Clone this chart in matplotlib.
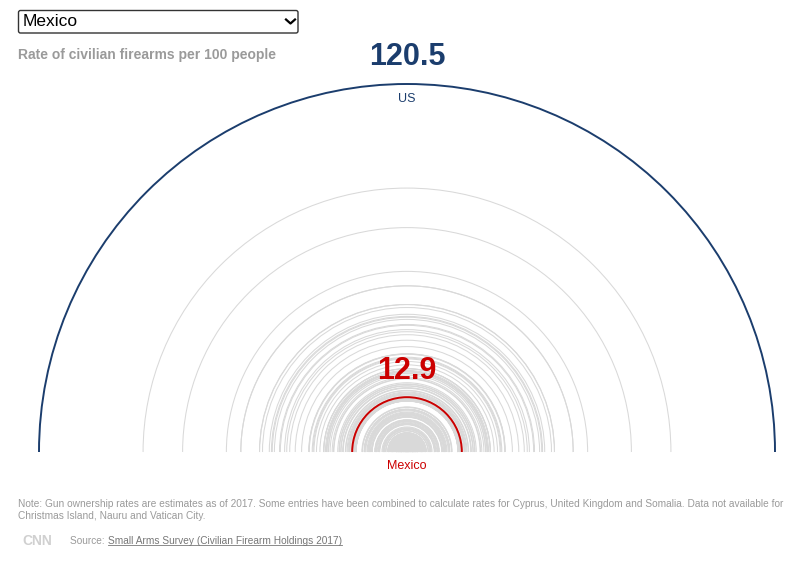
import matplotlib
matplotlib.use("Agg")
import matplotlib.pyplot as plt
from matplotlib import font_manager
from matplotlib.patches import Arc, FancyBboxPatch
from matplotlib.lines import Line2D

# Small Arms Survey 2017, civilian firearms per 100 people (read / estimated)
countries = [
    "United States", "Falkland Islands", "Yemen", "New Caledonia", "Montenegro",
    "Serbia", "Canada", "Uruguay", "Cyprus", "Finland", "Lebanon", "Iceland",
    "Bosnia and Herzegovina", "Austria", "North Macedonia", "Norway", "Malta",
    "Switzerland", "New Zealand", "Kuwait", "Northern Mariana Islands", "Sweden",
    "Kosovo", "Pakistan", "United Arab Emirates", "Greenland", "Portugal",
    "Bahrain", "Iraq", "Germany", "France", "Qatar", "Guam", "Luxembourg",
    "French Guiana", "Venezuela", "Oman", "Jordan", "Greece", "Angola",
    "Paraguay", "Saudi Arabia", "Turkey", "South Sudan", "Slovenia", "Libya",
    "Namibia", "Thailand", "Saint Pierre and Miquelon", "Australia", "Italy",
    "Honduras", "Panama", "Croatia", "Lithuania", "Faroe Islands", "Monaco",
    "Guatemala", "Mexico", "Belgium", "Czech Republic", "Afghanistan",
    "Armenia", "Russia", "Reunion", "Chile", "El Salvador", "Albania",
    "Liechtenstein", "Guadeloupe", "French Polynesia", "Martinique", "Latvia",
    "Hungary", "Colombia", "Costa Rica", "Belize", "Andorra", "San Marino",
    "Denmark", "South Africa", "Georgia", "Suriname", "Somalia",
    "Puerto Rico", "American Samoa", "Jamaica", "Cook Islands",
    "US Virgin Islands", "Guyana", "Brazil", "Syria", "Moldova",
    "Dominican Republic", "Spain", "Bulgaria", "Argentina", "Iran", "Ghana",
    "Ireland", "Belarus", "Nicaragua", "Israel", "Ukraine", "Slovakia",
    "Curacao", "Eswatini", "Trinidad and Tobago", "Mauritania", "Mongolia",
    "Sudan", "Saint Kitts and Nevis", "Botswana", "India", "Estonia",
    "United Kingdom", "Laos", "Congo", "Tonga", "Niue", "Cote d'Ivoire",
    "Antigua and Barbuda", "Anguilla", "Samoa", "Palestine", "Bahamas",
    "Gabon", "Cambodia", "British Virgin Islands", "Peru", "China",
    "Philippines", "Azerbaijan", "Montserrat", "Egypt", "Cameroon",
    "Turks and Caicos", "Barbados", "Kyrgyzstan", "Seychelles", "Djibouti",
    "Saint Lucia", "Nigeria", "Turkmenistan", "Algeria", "Cayman Islands",
    "Western Sahara", "Saint Vincent", "Netherlands", "Haiti", "Eritrea",
    "Poland", "Chad", "Burundi", "Ecuador", "Zimbabwe", "Lesotho", "Grenada",
    "Palau", "Bolivia", "Mali", "Vanuatu", "Sri Lanka", "Cuba",
    "Papua New Guinea", "Burkina Faso", "Dominica", "Gibraltar",
    "Cape Verde", "Bermuda", "Equatorial Guinea", "Kazakhstan", "Ethiopia",
    "Romania", "Vietnam", "Nepal", "Fiji", "Malaysia", "Kenya", "Guinea",
    "Central African Republic", "Togo", "Morocco", "Brunei", "Mayotte",
    "Benin", "Senegal", "Zambia", "Aruba", "Guinea-Bissau", "Bhutan",
    "Sao Tome and Principe", "Tajikistan", "Gambia", "Uzbekistan", "Tunisia",
    "Sierra Leone", "Liberia", "DR Congo", "Niger", "Uganda", "Mauritius",
    "Madagascar", "Macau", "Tanzania", "Maldives", "Tuvalu",
    "Marshall Islands", "Myanmar", "Bangladesh", "Micronesia", "Japan",
    "Taiwan", "Indonesia", "Singapore", "Timor-Leste", "Mozambique",
    "Hong Kong", "Comoros", "South Korea", "Malawi", "North Korea",
    "Solomon Islands", "Rwanda", "Kiribati",
]
rates = [
    120.5, 62.1, 52.8, 42.5, 39.1,
    39.1, 34.7, 34.7, 34.0, 32.4, 31.9, 31.7,
    31.2, 30.0, 29.8, 28.8, 28.3,
    27.6, 26.3, 24.8, 23.0, 23.1,
    23.1, 22.3, 22.1, 21.9, 21.3,
    20.5, 19.6, 19.6, 19.6, 19.2, 19.0, 18.9,
    18.8, 18.5, 18.5, 18.1, 17.6, 17.3,
    17.2, 16.3, 16.0, 15.9, 15.6, 15.5,
    15.1, 15.1, 15.0, 14.5, 14.4,
    14.1, 13.9, 13.7, 13.6, 13.5, 13.4,
    13.1, 12.9, 12.7, 12.5, 12.5,
    12.5, 12.3, 12.3, 12.1, 12.0, 12.0,
    12.0, 12.0, 12.0, 10.6, 10.5,
    10.5, 10.1, 10.0, 10.0, 10.0, 10.0,
    9.9, 9.7, 9.4, 9.2, 9.2,
    9.0, 8.9, 8.8, 8.8,
    8.6, 8.4, 8.3, 8.2, 8.2,
    7.6, 7.5, 7.5, 7.4, 7.3, 7.3,
    7.2, 7.0, 6.8, 6.7, 6.6, 6.5,
    6.5, 6.4, 5.9, 5.7, 5.6,
    5.5, 5.5, 5.4, 5.3, 5.0,
    5.0, 5.0, 4.6, 4.5, 4.5, 4.4,
    4.4, 4.4, 4.3, 4.2, 4.1,
    4.0, 3.9, 3.7, 3.6, 3.6,
    3.6, 3.6, 3.6, 3.5, 3.5,
    3.5, 3.3, 3.2, 3.2, 3.1,
    3.1, 3.0, 3.0, 2.8, 2.8,
    2.8, 2.7, 2.6, 2.6, 2.6,
    2.5, 2.5, 2.5, 2.4, 2.4, 2.4, 2.4,
    2.4, 2.2, 2.2, 2.2, 2.1, 2.0,
    2.0, 2.0, 2.0, 2.0,
    1.9, 1.9, 1.8, 1.7, 1.7,
    1.6, 1.6, 1.6, 1.6, 1.5, 1.5, 1.5,
    1.5, 1.5, 1.4, 1.4, 1.4,
    1.3, 1.2, 1.2, 1.2, 1.2, 1.2,
    1.2, 1.0, 1.0, 0.9, 0.9,
    0.9, 0.9, 0.9, 0.8, 0.8, 0.8,
    0.7, 0.7, 0.6, 0.6, 0.5,
    0.5, 0.4, 0.4, 0.4, 0.3,
    0.3, 0.3, 0.3, 0.3, 0.3,
    0.3, 0.3, 0.2, 0.2, 0.1,
    0.1, 0.1, 0.1,
]

selected = "Mexico"
top_country = "United States"
top_label = "US"

subtitle = "Rate of civilian firearms per 100 people"
note = ("Note: Gun ownership rates are estimates as of 2017. Some entries have been combined "
        "to calculate rates for Cyprus, United Kingdom and Somalia. Data not available for\n"
        "Christmas Island, Nauru and Vatican City.")
source_prefix = "Source: "
source_link = "Small Arms Survey (Civilian Firearm Holdings 2017)"

NAVY = "#1b3d6d"
RED = "#cc0000"
ARC_GREY = "#d9d9d9"
TEXT_GREY = "#9a9a9a"

# px per rate unit, and the cap used for the outlier
PX_PER_UNIT = 4.25
MAX_R = 368.0
CX, CY = 407.0, 452.0

installed = {f.name for f in font_manager.fontManager.ttflist}
SANS = "Liberation Sans"
NARROW = "Liberation Sans Narrow" if "Liberation Sans Narrow" in installed else "Liberation Sans"
FOOT_SIZE = 7.6 if NARROW != SANS else 7.25


def radius(rate):
    return min(rate * PX_PER_UNIT, MAX_R)


fig = plt.figure(figsize=(8.0, 5.66), dpi=100)
ax = fig.add_axes([0, 0, 1, 1])
ax.set_xlim(0, 800)
ax.set_ylim(566, 0)
ax.axis("off")

# grey arcs for every other country
for name, rate in zip(countries, rates):
    if name in (selected, top_country):
        continue
    r = radius(rate)
    ax.add_patch(Arc((CX, CY), 2 * r, 2 * r, theta1=180, theta2=360,
                     color=ARC_GREY, lw=0.75))

# selected country
r_sel = radius(rates[countries.index(selected)])
ax.add_patch(Arc((CX, CY), 2 * r_sel, 2 * r_sel, theta1=180, theta2=360,
                 color=RED, lw=1.4))
ax.text(CX, CY - r_sel - 26, f"{rates[countries.index(selected)]:.1f}", color=RED,
        fontsize=22, fontweight="bold", family=SANS, ha="center", va="center")
ax.text(CX, CY + 14, selected, color=RED, fontsize=9, family=SANS,
        ha="center", va="center")

# top country
r_top = radius(rates[countries.index(top_country)])
ax.add_patch(Arc((CX, CY), 2 * r_top, 2 * r_top, theta1=180, theta2=360,
                 color=NAVY, lw=1.4))
ax.text(CX, CY - r_top - 27, f"{rates[countries.index(top_country)]:.1f}", color=NAVY,
        fontsize=22, fontweight="bold", family=SANS, ha="center", va="center")
ax.text(CX, CY - r_top + 15, top_label, color=NAVY, fontsize=9, family=SANS,
        ha="center", va="center")

# dropdown
ax.add_patch(FancyBboxPatch((18.5, 10.5), 279.5, 22.5,
                            boxstyle="round,pad=0,rounding_size=2",
                            facecolor="white", edgecolor="#333333", lw=1.0))
ax.text(23, 22, selected, fontsize=12.5, family=SANS, color="black",
        ha="left", va="center")
ax.add_line(Line2D([286, 290.5, 295], [19.5, 23.5, 19.5], color="black", lw=1.6))

ax.text(18, 55, subtitle, fontsize=10, fontweight="bold", family=SANS,
        color=TEXT_GREY, ha="left", va="center")

# footer
ax.text(18, 510, note, fontsize=FOOT_SIZE, family=NARROW, color=TEXT_GREY,
        ha="left", va="center", linespacing=1.35)
ax.text(37, 541, "CNN", fontsize=10, fontweight="bold", family=NARROW,
        color="#d0d0d0", ha="center", va="center")
t1 = ax.text(70, 541, source_prefix, fontsize=FOOT_SIZE, family=NARROW,
             color=TEXT_GREY, ha="left", va="center")
fig.canvas.draw()
inv = ax.transData.inverted()
bb = t1.get_window_extent()
x_link = inv.transform((bb.x1, bb.y0))[0]
t2 = ax.text(x_link, 541, source_link, fontsize=FOOT_SIZE, family=NARROW,
             color="#777777", ha="left", va="center")
fig.canvas.draw()
bb2 = t2.get_window_extent()
(x0, y0), (x1, _) = inv.transform([(bb2.x0, bb2.y0), (bb2.x1, bb2.y1)])
ax.add_line(Line2D([x0, x1], [y0 - 1, y0 - 1], color="#777777", lw=0.6))

fig.savefig("out.png", dpi=100)
